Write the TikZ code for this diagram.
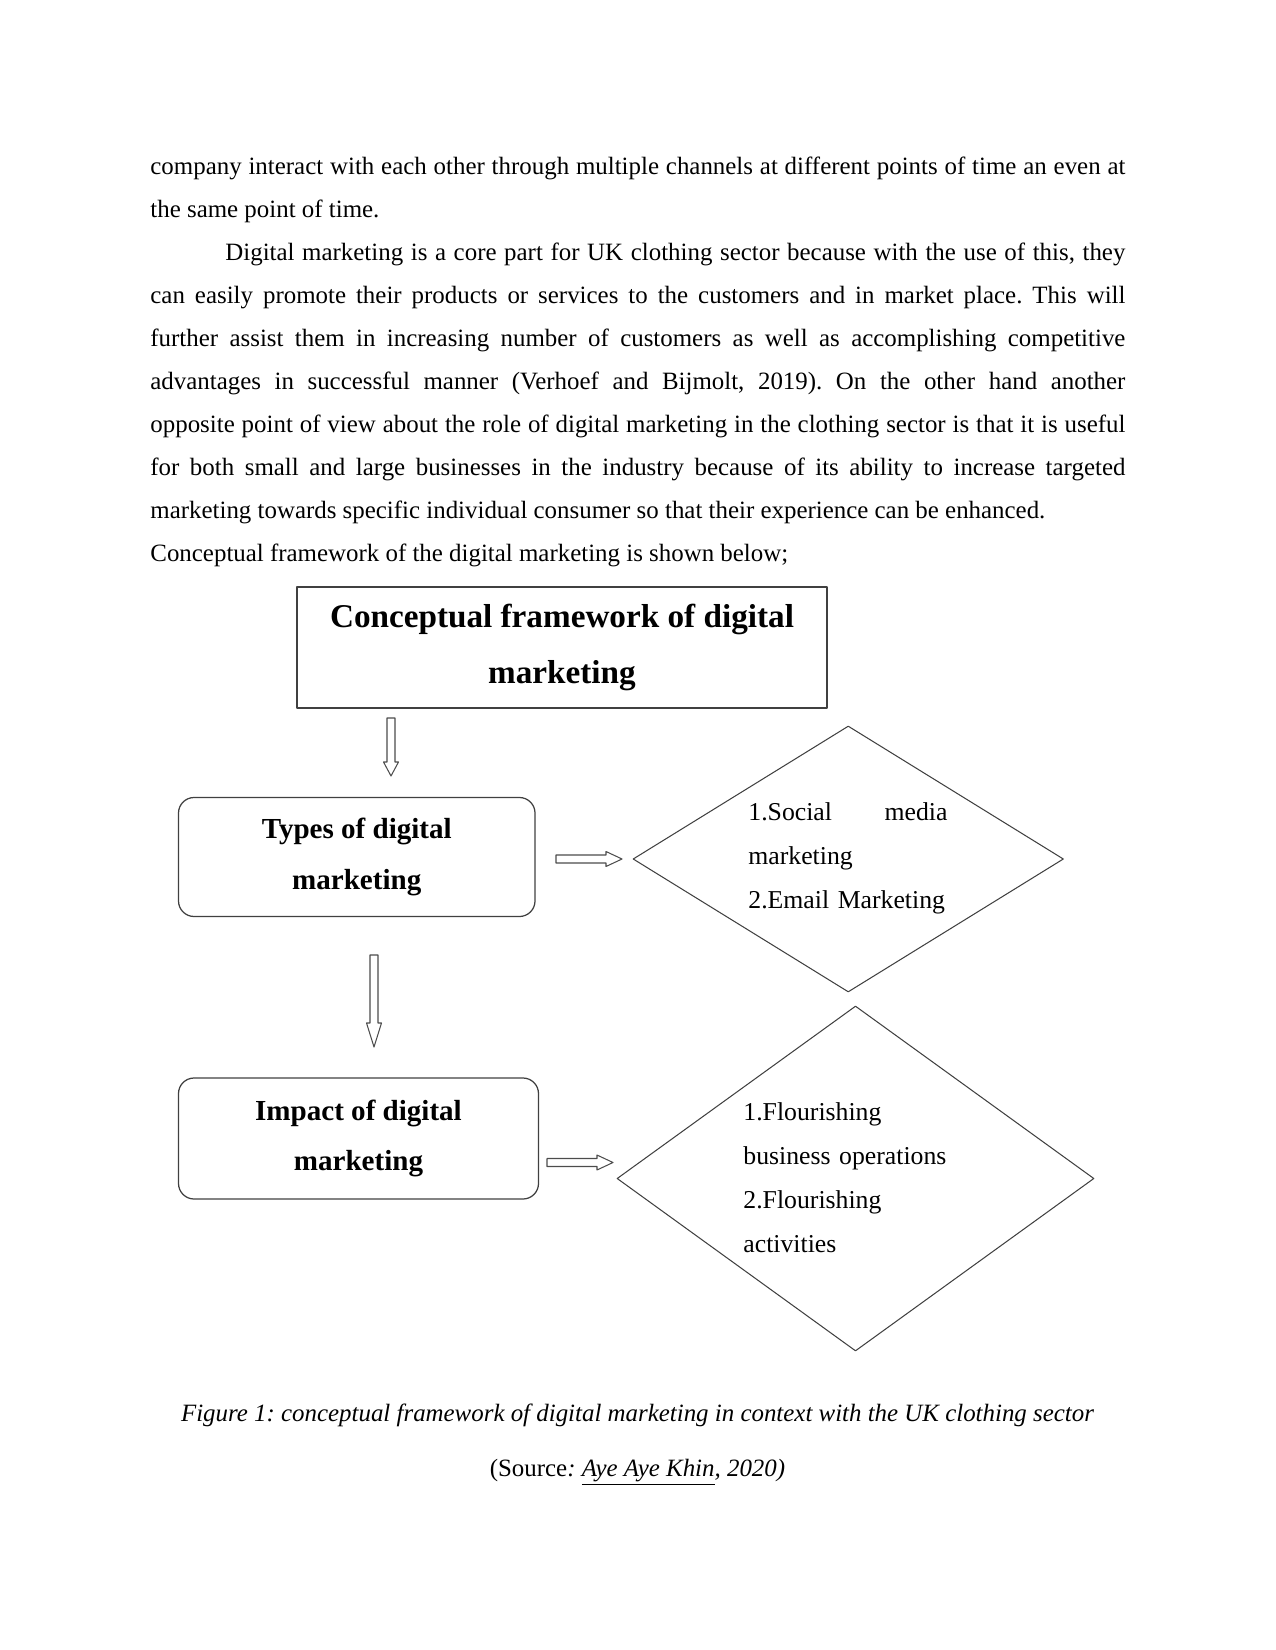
\documentclass[tikz,border=0pt]{standalone}
\usepackage{fontspec}
\setmainfont{Liberation Serif}
\usetikzlibrary{shapes.geometric}
\newlength{\px}
\setlength{\px}{0.4818pt}
\tolerance=10000
\hyphenpenalty=10000
\frenchspacing

\begin{document}
\begin{tikzpicture}[x=0.4818pt, y=-0.4818pt, line join=round,
    box/.style={draw=black!75, line width=0.6pt, inner sep=0pt, align=center},
    headbox/.style={box, minimum width=530*\px, minimum height=121*\px, font=\fontsize{16}{27.4}\selectfont\bfseries},
    roundbox/.style={box, rounded corners=7.5pt, minimum height=119*\px, font=\fontsize{14}{24.2}\selectfont\bfseries},
    choice/.style={diamond, draw=black!75, line width=0.5pt, inner sep=0pt},
    choicetext/.style={anchor=base west, inner sep=0pt, align=left, font=\fontsize{12.4}{21.3}\selectfont},
    pics/hollowarrow/.style 2 args={code={
        \draw[black!70, line width=0.5pt] (0,-4) -- ({#1-#2},-4) -- ({#1-#2},-7.5) -- (#1,0) -- ({#1-#2},7.5) -- ({#1-#2},4) -- (0,4) -- cycle;
    }}]
    \useasboundingbox (0,0) rectangle (1275,1650);
    \node[anchor=base west, inner sep=0pt, text width=975*\px, align=justify, font=\fontsize{12}{20.7}\selectfont] (body) at (150,175) {company interact with each other through multiple channels at different points of time an even at\linebreak
    the same point of time.\par
    \hspace*{0.5in}Digital marketing is a core part for UK clothing sector because with the use of this, they\linebreak
    can easily promote their products or services to the customers and in market place. This will\linebreak
    further assist them in increasing number of customers as well as accomplishing competitive\linebreak
    advantages in successful manner (Verhoef and Bijmolt, 2019). On the other hand another\linebreak
    opposite point of view about the role of digital marketing in the clothing sector is that it is useful\linebreak
    for both small and large businesses in the industry because of its ability to increase targeted\linebreak
    marketing towards specific individual consumer so that their experience can be enhanced.\par
    Conceptual framework of the digital marketing is shown below;};
    \node[headbox] (head) at (562,647.5) {Conceptual framework of digital\\marketing};
    \node[roundbox, minimum width=356.5*\px] (types) at (356.75,857) {Types of digital\\marketing};
    \node[roundbox, minimum width=360*\px, minimum height=121*\px] (impact) at (358.5,1138.5) {Impact of digital\\marketing};
    \node[choice, minimum width=430.5*\px, minimum height=266*\px] (kinds) at (848.25,859) {};
    \node[choice, minimum width=477*\px, minimum height=345*\px] (effects) at (855.5,1178.5) {};
    \node[choicetext, text width=199*\px] (kindslist) at (748,820) {\hbox to\linewidth{1.Social\hfill media}\\marketing\\2.Email Marketing};
    \node[choicetext, text width=210*\px] (effectslist) at (743,1120) {1.Flourishing\\business operations\\2.Flourishing\\activities};
    \pic[rotate=-90] (down1) at (391,718) {hollowarrow={58}{14}};
    \pic[rotate=-90] (down2) at (374,955) {hollowarrow={92}{24}};
    \pic (right1) at (556,859) {hollowarrow={66}{16}};
    \pic (right2) at (547,1162.5) {hollowarrow={66}{16}};
    \node[anchor=base, inner sep=0pt, font=\fontsize{12}{14}\selectfont\itshape] (caption) at (637.5,1421) {Figure 1: conceptual framework of digital marketing in context with the UK clothing sector};
    \node[anchor=base, inner sep=0pt, font=\fontsize{12}{14}\selectfont] (source) at (637.5,1476) {(Source\textit{: \underline{Aye Aye Khin}, 2020)}};
\end{tikzpicture}
\end{document}
